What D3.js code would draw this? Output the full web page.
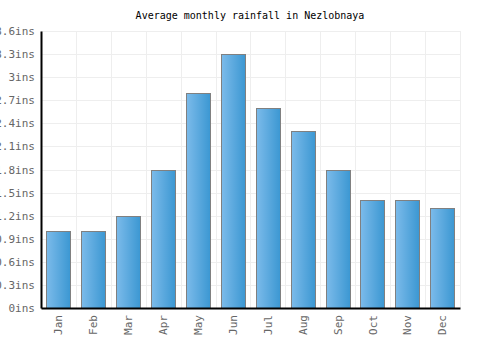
<!DOCTYPE html>
<html><head><meta charset="utf-8">
<script src="https://cdn.jsdelivr.net/npm/d3@7"></script>
<style>body{margin:0;background:#fff}</style>
</head><body>
<svg id="c" width="500" height="350"></svg>
<script>
const months = ["Jan","Feb","Mar","Apr","May","Jun","Jul","Aug","Sep","Oct","Nov","Dec"];
const rainfall = [1.0,1.0,1.2,1.8,2.8,3.3,2.6,2.3,1.8,1.4,1.4,1.3];
const yTicks = [0,0.3,0.6,0.9,1.2,1.5,1.8,2.1,2.4,2.7,3,3.3,3.6];
const yTickLabels = ["0ins","0.3ins","0.6ins","0.9ins","1.2ins","1.5ins","1.8ins","2.1ins","2.4ins","2.7ins","3ins","3.3ins","3.6ins"];
const title = "Average monthly rainfall in Nezlobnaya";

const svg = d3.select("#c");
const L=41,R=460,T=31,B=308;
const font = "'DejaVu Sans Mono', monospace";
const x = d3.scaleBand().domain(months).range([L,R]).paddingInner(0.3).paddingOuter(0.15);
const xg = d3.scaleBand().domain(months).range([L,R]);
const y = d3.scaleLinear().domain([0,3.6]).range([B,T]);

const defs = svg.append("defs");
const g = defs.append("linearGradient").attr("id","bg").attr("x1","0").attr("x2","1").attr("y1","0").attr("y2","0");
g.append("stop").attr("offset","0").attr("stop-color","#7cbbea");
g.append("stop").attr("offset","1").attr("stop-color","#3b97d2");

svg.append("text").attr("x",250).attr("y",19).attr("text-anchor","middle")
  .attr("font-family",font).attr("font-size",10).attr("fill","#000").text(title);

// grid
svg.append("g").selectAll("line").data(yTicks).join("line")
  .attr("x1",L).attr("x2",R).attr("y1",d=>Math.round(y(d))+0.5).attr("y2",d=>Math.round(y(d))+0.5)
  .attr("stroke","#eeeeee");
svg.append("g").selectAll("line").data(months).join("line")
  .attr("x1",d=>Math.round(xg(d)+xg.bandwidth())+0.5).attr("x2",d=>Math.round(xg(d)+xg.bandwidth())+0.5)
  .attr("y1",T).attr("y2",B).attr("stroke","#eeeeee");

// bars
svg.append("g").selectAll("rect").data(rainfall).join("rect")
  .attr("x",(d,i)=>Math.round(x(months[i]))+0.5)
  .attr("y",d=>Math.round(y(d))+0.5)
  .attr("width",Math.round(x.bandwidth()))
  .attr("height",d=>B-Math.round(y(d)))
  .attr("fill","url(#bg)").attr("stroke","#808080").attr("stroke-width",1);

// axes
const ya = svg.append("g").attr("transform",`translate(${L},0)`)
  .call(d3.axisLeft(y).tickValues(yTicks).tickFormat((d,i)=>yTickLabels[i]).tickSize(0).tickPadding(6));
ya.select(".domain").attr("stroke","#000").attr("stroke-width",2);
ya.selectAll("text").attr("font-family",font).attr("font-size",11).attr("fill","#666");

const xa = svg.append("g").attr("transform",`translate(0,${B})`)
  .call(d3.axisBottom(x).tickSize(0).tickPadding(6));
xa.select(".domain").attr("stroke","#000").attr("stroke-width",2);
xa.selectAll("text").attr("font-family",font).attr("font-size",11).attr("fill","#666")
  .attr("transform","rotate(-90)").attr("text-anchor","end").attr("dy","0.35em").attr("y",0).attr("x",-7);
</script>
</body></html>
